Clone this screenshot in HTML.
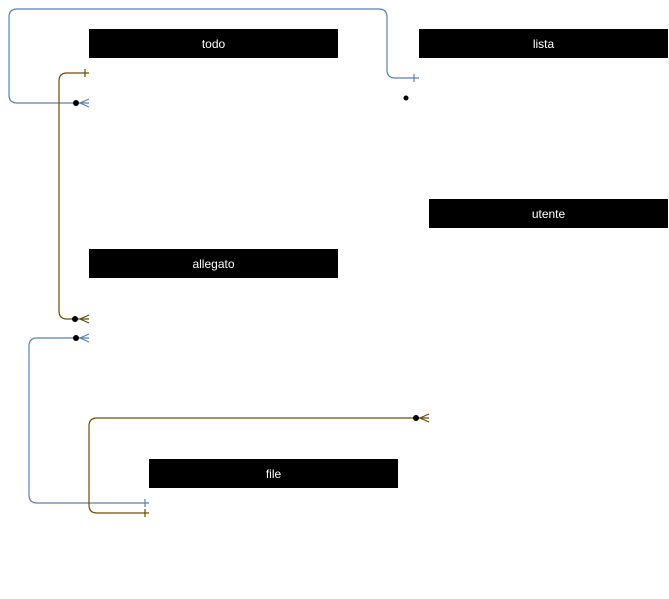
<!DOCTYPE html>
<html><head><style>
body{margin:0;background:#fff;width:669px;height:599px;overflow:hidden;position:relative;font-family:"Liberation Sans",sans-serif}
.b{position:absolute;background:#000;color:#fff;font-size:12px;text-align:center;line-height:30px;height:29px}
svg{position:absolute;left:0;top:0}
</style></head><body>
<div class="b" style="left:89px;top:29px;width:249px">todo</div>
<div class="b" style="left:419px;top:29px;width:249px">lista</div>
<div class="b" style="left:429px;top:199px;width:239px">utente</div>
<div class="b" style="left:89px;top:249px;width:249px">allegato</div>
<div class="b" style="left:149px;top:459px;width:249px">file</div>
<svg width="669" height="599" fill="none" stroke-width="1.2">
<g stroke="#5a7fb5">
<path d="M89 103H17Q9 103 9 95V17Q9 9 17 9H379Q387 9 387 17V70Q387 78 395 78H419"/>
<path d="M414 74V82"/>
<path d="M89 99L80 103L89 107"/>
<path d="M89 338H37Q29 338 29 346V495Q29 503 37 503H149"/>
<path d="M145 499V507"/>
<path d="M89 334L80 338L89 342"/>
</g>
<g stroke="#6b4e00">
<path d="M89 73H67Q59 73 59 81V311Q59 319 67 319H89"/>
<path d="M85 69V77"/>
<path d="M89 315L80 319L89 323"/>
<path d="M429 418H97Q89 418 89 426V505Q89 513 97 513H149"/>
<path d="M145 509V517"/>
<path d="M429 414L420 418L429 422"/>
</g>
<g fill="#000">
<circle cx="76" cy="103" r="3"/>
<circle cx="75" cy="319" r="3"/>
<circle cx="76" cy="338" r="3"/>
<circle cx="416" cy="418" r="3"/>
<circle cx="406" cy="98" r="2.5"/>
</g>
</svg>
</body></html>
